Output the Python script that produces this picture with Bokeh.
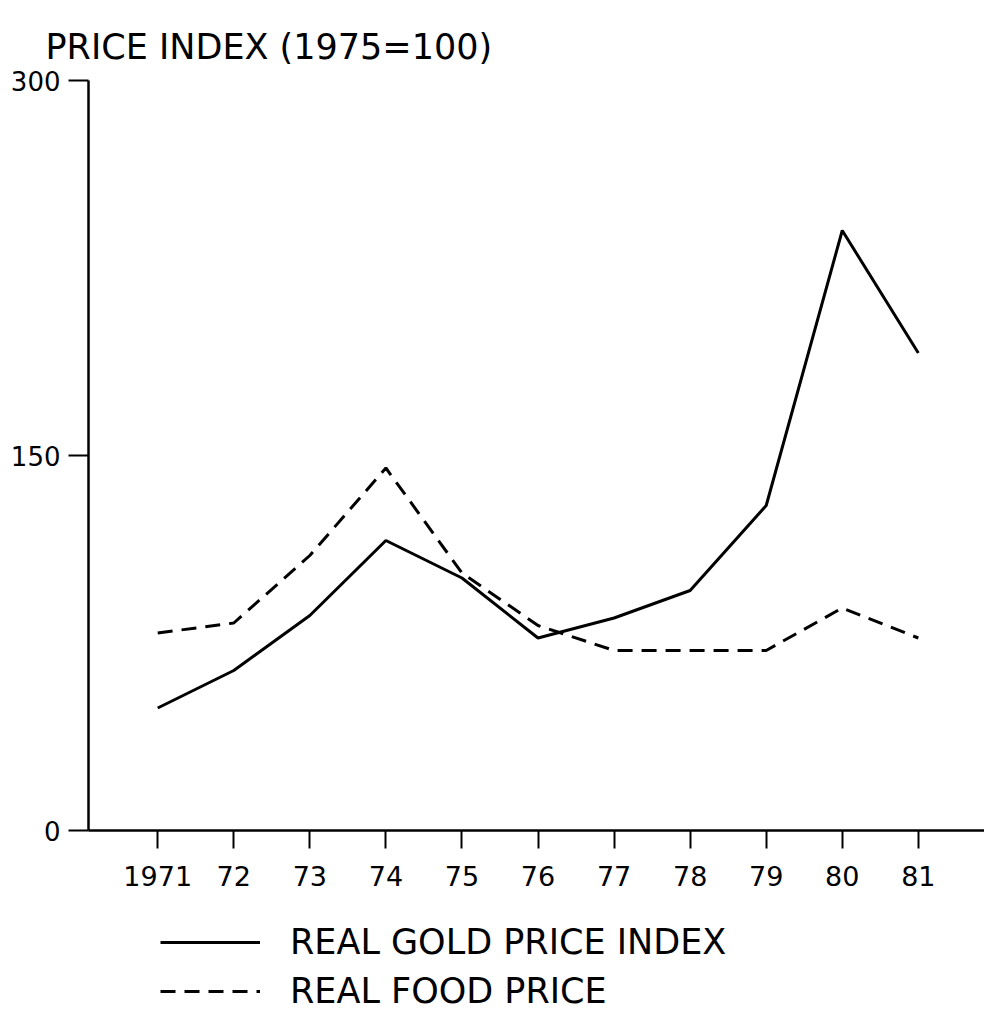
from bokeh.plotting import figure
from bokeh.models import Legend, LegendItem, FixedTicker, Range1d
from bokeh.layouts import column
from bokeh.embed import file_html
from bokeh.resources import INLINE

years = [1971, 1972, 1973, 1974, 1975, 1976, 1977, 1978, 1979, 1980, 1981]
year_labels = ["1971", "72", "73", "74", "75", "76", "77", "78", "79", "80", "81"]
gold_index = [49, 64, 86, 116, 101, 77, 85, 96, 130, 240, 191]
food_index = [79, 83, 110, 145, 103, 82, 72, 72, 72, 89, 77]
y_ticks = [0, 150, 300]
series_names = ["REAL GOLD PRICE INDEX", "REAL FOOD PRICE"]

FONT = "DejaVu Sans"
SOLID = dict(line_color="black", line_width=3)
DASHED = dict(line_color="black", line_width=3, line_dash="15 9")

p = figure(width=984, height=898, output_backend="svg", toolbar_location=None,
           x_range=Range1d(1970.09, 1981.87), y_range=Range1d(0, 300),
           min_border_left=88, min_border_right=0, min_border_top=80, min_border_bottom=68)
p.outline_line_color = None
p.grid.visible = False
p.background_fill_color = "white"
p.border_fill_color = "white"

p.title.text = "PRICE INDEX (1975=100)"
p.title.align = "left"
p.title.offset = -43
p.title.text_font = FONT
p.title.text_font_size = "35px"
p.title.text_font_style = "normal"
p.title.text_color = "black"
p.title.standoff = 27

xa = p.xaxis[0]
xa.ticker = FixedTicker(ticks=years)
xa.major_label_overrides = {y: l for y, l in zip(years, year_labels)}
xa.major_tick_out = 18
xa.major_tick_in = 0
xa.minor_tick_line_color = None
xa.axis_line_width = 2.5
xa.major_tick_line_width = 2
xa.major_label_text_font = FONT
xa.major_label_text_font_size = "27px"
xa.major_label_standoff = 17
xa.major_label_text_color = "black"

ya = p.yaxis[0]
ya.ticker = FixedTicker(ticks=y_ticks)
ya.major_tick_out = 20
ya.major_tick_in = 0
ya.minor_tick_line_color = None
ya.axis_line_width = 2.5
ya.major_tick_line_width = 2
ya.major_label_text_font = FONT
ya.major_label_text_font_size = "26px"
ya.major_label_standoff = 8
ya.major_label_text_color = "black"

p.line(years, gold_index, **SOLID)
p.line(years, food_index, **DASHED)

# legend panel below the chart
lf = figure(width=984, height=113, output_backend="svg", toolbar_location=None,
            x_range=Range1d(0, 1), y_range=Range1d(0, 1),
            x_axis_type=None, y_axis_type=None,
            min_border_left=0, min_border_right=0, min_border_top=0, min_border_bottom=0)
lf.outline_line_color = None
lf.grid.visible = False
nan = float("nan")
lg = lf.line([nan, nan], [nan, nan], **SOLID)
ld = lf.line([nan, nan], [nan, nan], **DASHED)

legend = Legend(items=[LegendItem(label=series_names[0], renderers=[lg]),
                       LegendItem(label=series_names[1], renderers=[ld])],
                location=(72, 0), glyph_width=100, glyph_height=40,
                padding=0, margin=0,
                label_text_font=FONT, label_text_font_size="35px",
                label_standoff=30, spacing=9, border_line_color=None,
                background_fill_alpha=0, label_text_color="black")
lf.add_layout(legend, "center")

layout = column(p, lf, spacing=0)
open("out.html", "w").write(file_html(layout, INLINE))
